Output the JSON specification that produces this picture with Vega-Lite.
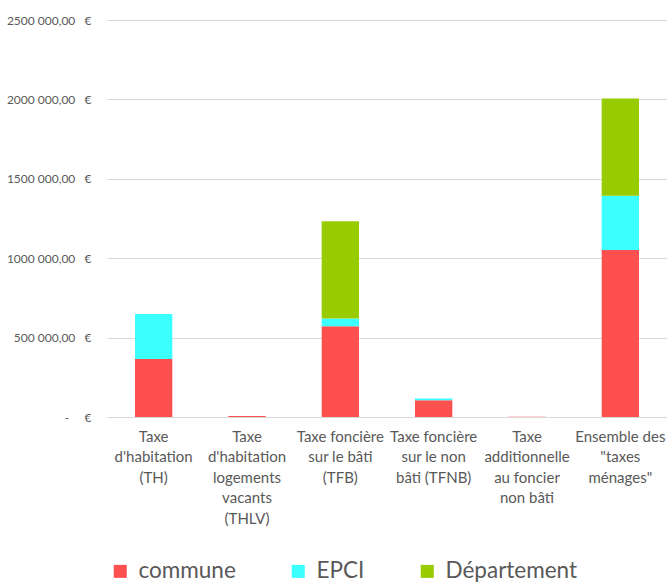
{
  "$schema": "https://vega.github.io/schema/vega-lite/v6.json",
  "width": 560,
  "height": 397,
  "autosize": {"type": "none"},
  "padding": {"left": 107, "top": 20, "right": 0, "bottom": 166},
  "background": "white",
  "config": {
    "view": {"stroke": null},
    "font": "Lato"
  },
  "data": {
    "values": [
      {"taxe": "Taxe\nd'habitation\n(TH)", "niveau": "commune", "rang": 1, "montant": 365000},
      {"taxe": "Taxe\nd'habitation\n(TH)", "niveau": "EPCI", "rang": 2, "montant": 283000},
      {"taxe": "Taxe\nd'habitation\n(TH)", "niveau": "Département", "rang": 3, "montant": 0},
      {"taxe": "Taxe\nd'habitation\nlogements\nvacants\n(THLV)", "niveau": "commune", "rang": 1, "montant": 6000},
      {"taxe": "Taxe\nd'habitation\nlogements\nvacants\n(THLV)", "niveau": "EPCI", "rang": 2, "montant": 0},
      {"taxe": "Taxe\nd'habitation\nlogements\nvacants\n(THLV)", "niveau": "Département", "rang": 3, "montant": 0},
      {"taxe": "Taxe foncière\nsur le bâti\n(TFB)", "niveau": "commune", "rang": 1, "montant": 572000},
      {"taxe": "Taxe foncière\nsur le bâti\n(TFB)", "niveau": "EPCI", "rang": 2, "montant": 48000},
      {"taxe": "Taxe foncière\nsur le bâti\n(TFB)", "niveau": "Département", "rang": 3, "montant": 613000},
      {"taxe": "Taxe foncière\nsur le non\nbâti (TFNB)", "niveau": "commune", "rang": 1, "montant": 106000},
      {"taxe": "Taxe foncière\nsur le non\nbâti (TFNB)", "niveau": "EPCI", "rang": 2, "montant": 11000},
      {"taxe": "Taxe foncière\nsur le non\nbâti (TFNB)", "niveau": "Département", "rang": 3, "montant": 0},
      {"taxe": "Taxe\nadditionnelle\nau foncier\nnon bâti", "niveau": "commune", "rang": 1, "montant": 2000},
      {"taxe": "Taxe\nadditionnelle\nau foncier\nnon bâti", "niveau": "EPCI", "rang": 2, "montant": 0},
      {"taxe": "Taxe\nadditionnelle\nau foncier\nnon bâti", "niveau": "Département", "rang": 3, "montant": 0},
      {"taxe": "Ensemble des\n\"taxes\nménages\"", "niveau": "commune", "rang": 1, "montant": 1051000},
      {"taxe": "Ensemble des\n\"taxes\nménages\"", "niveau": "EPCI", "rang": 2, "montant": 342000},
      {"taxe": "Ensemble des\n\"taxes\nménages\"", "niveau": "Département", "rang": 3, "montant": 613000}
    ]
  },
  "mark": {"type": "bar"},
  "encoding": {
    "x": {
      "field": "taxe",
      "type": "nominal",
      "sort": null,
      "scale": {"paddingInner": 0.6, "paddingOuter": 0.3},
      "axis": {
        "title": null,
        "domain": false,
        "ticks": false,
        "labelAngle": 0,
        "labelFontSize": 15,
        "labelColor": "#595959",
        "labelLineHeight": 20.5,
        "labelPadding": 12,
        "labelLimit": 0,
        "labelExpr": "split(datum.label, '\\n')"
      }
    },
    "y": {
      "field": "montant",
      "type": "quantitative",
      "stack": "zero",
      "scale": {"domain": [0, 2500000], "nice": false},
      "axis": {
        "title": null,
        "values": [0, 500000, 1000000, 1500000, 2000000, 2500000],
        "domain": false,
        "ticks": false,
        "gridColor": "#D9D9D9",
        "gridWidth": 1,
        "labelFontSize": 12,
        "labelColor": "#595959",
        "labelPadding": 16,
        "labelExpr": "datum.value == 0 ? '-\u00a0\u00a0\u00a0\u00a0\u00a0€' : replace(replace(datum.value >= 1000000 ? replace(format(datum.value, ',.2f'), ',', '') : format(datum.value, ',.2f'), ',', ' '), '.', ',') + '\u00a0\u00a0\u00a0€'"
      }
    },
    "color": {
      "field": "niveau",
      "type": "nominal",
      "scale": {
        "domain": ["commune", "EPCI", "Département"],
        "range": ["#FF5050", "#3CFFFF", "#99CC00"]
      },
      "legend": {
        "title": null,
        "orient": "none",
        "direction": "horizontal",
        "legendX": 2,
        "legendY": 540,
        "symbolType": "square",
        "symbolSize": 169,
        "symbolStrokeWidth": 0,
        "labelFontSize": 22.5,
        "labelColor": "#595959",
        "labelOffset": 7,
        "columnPadding": 51
      }
    },
    "order": {"field": "rang", "type": "quantitative"}
  }
}
